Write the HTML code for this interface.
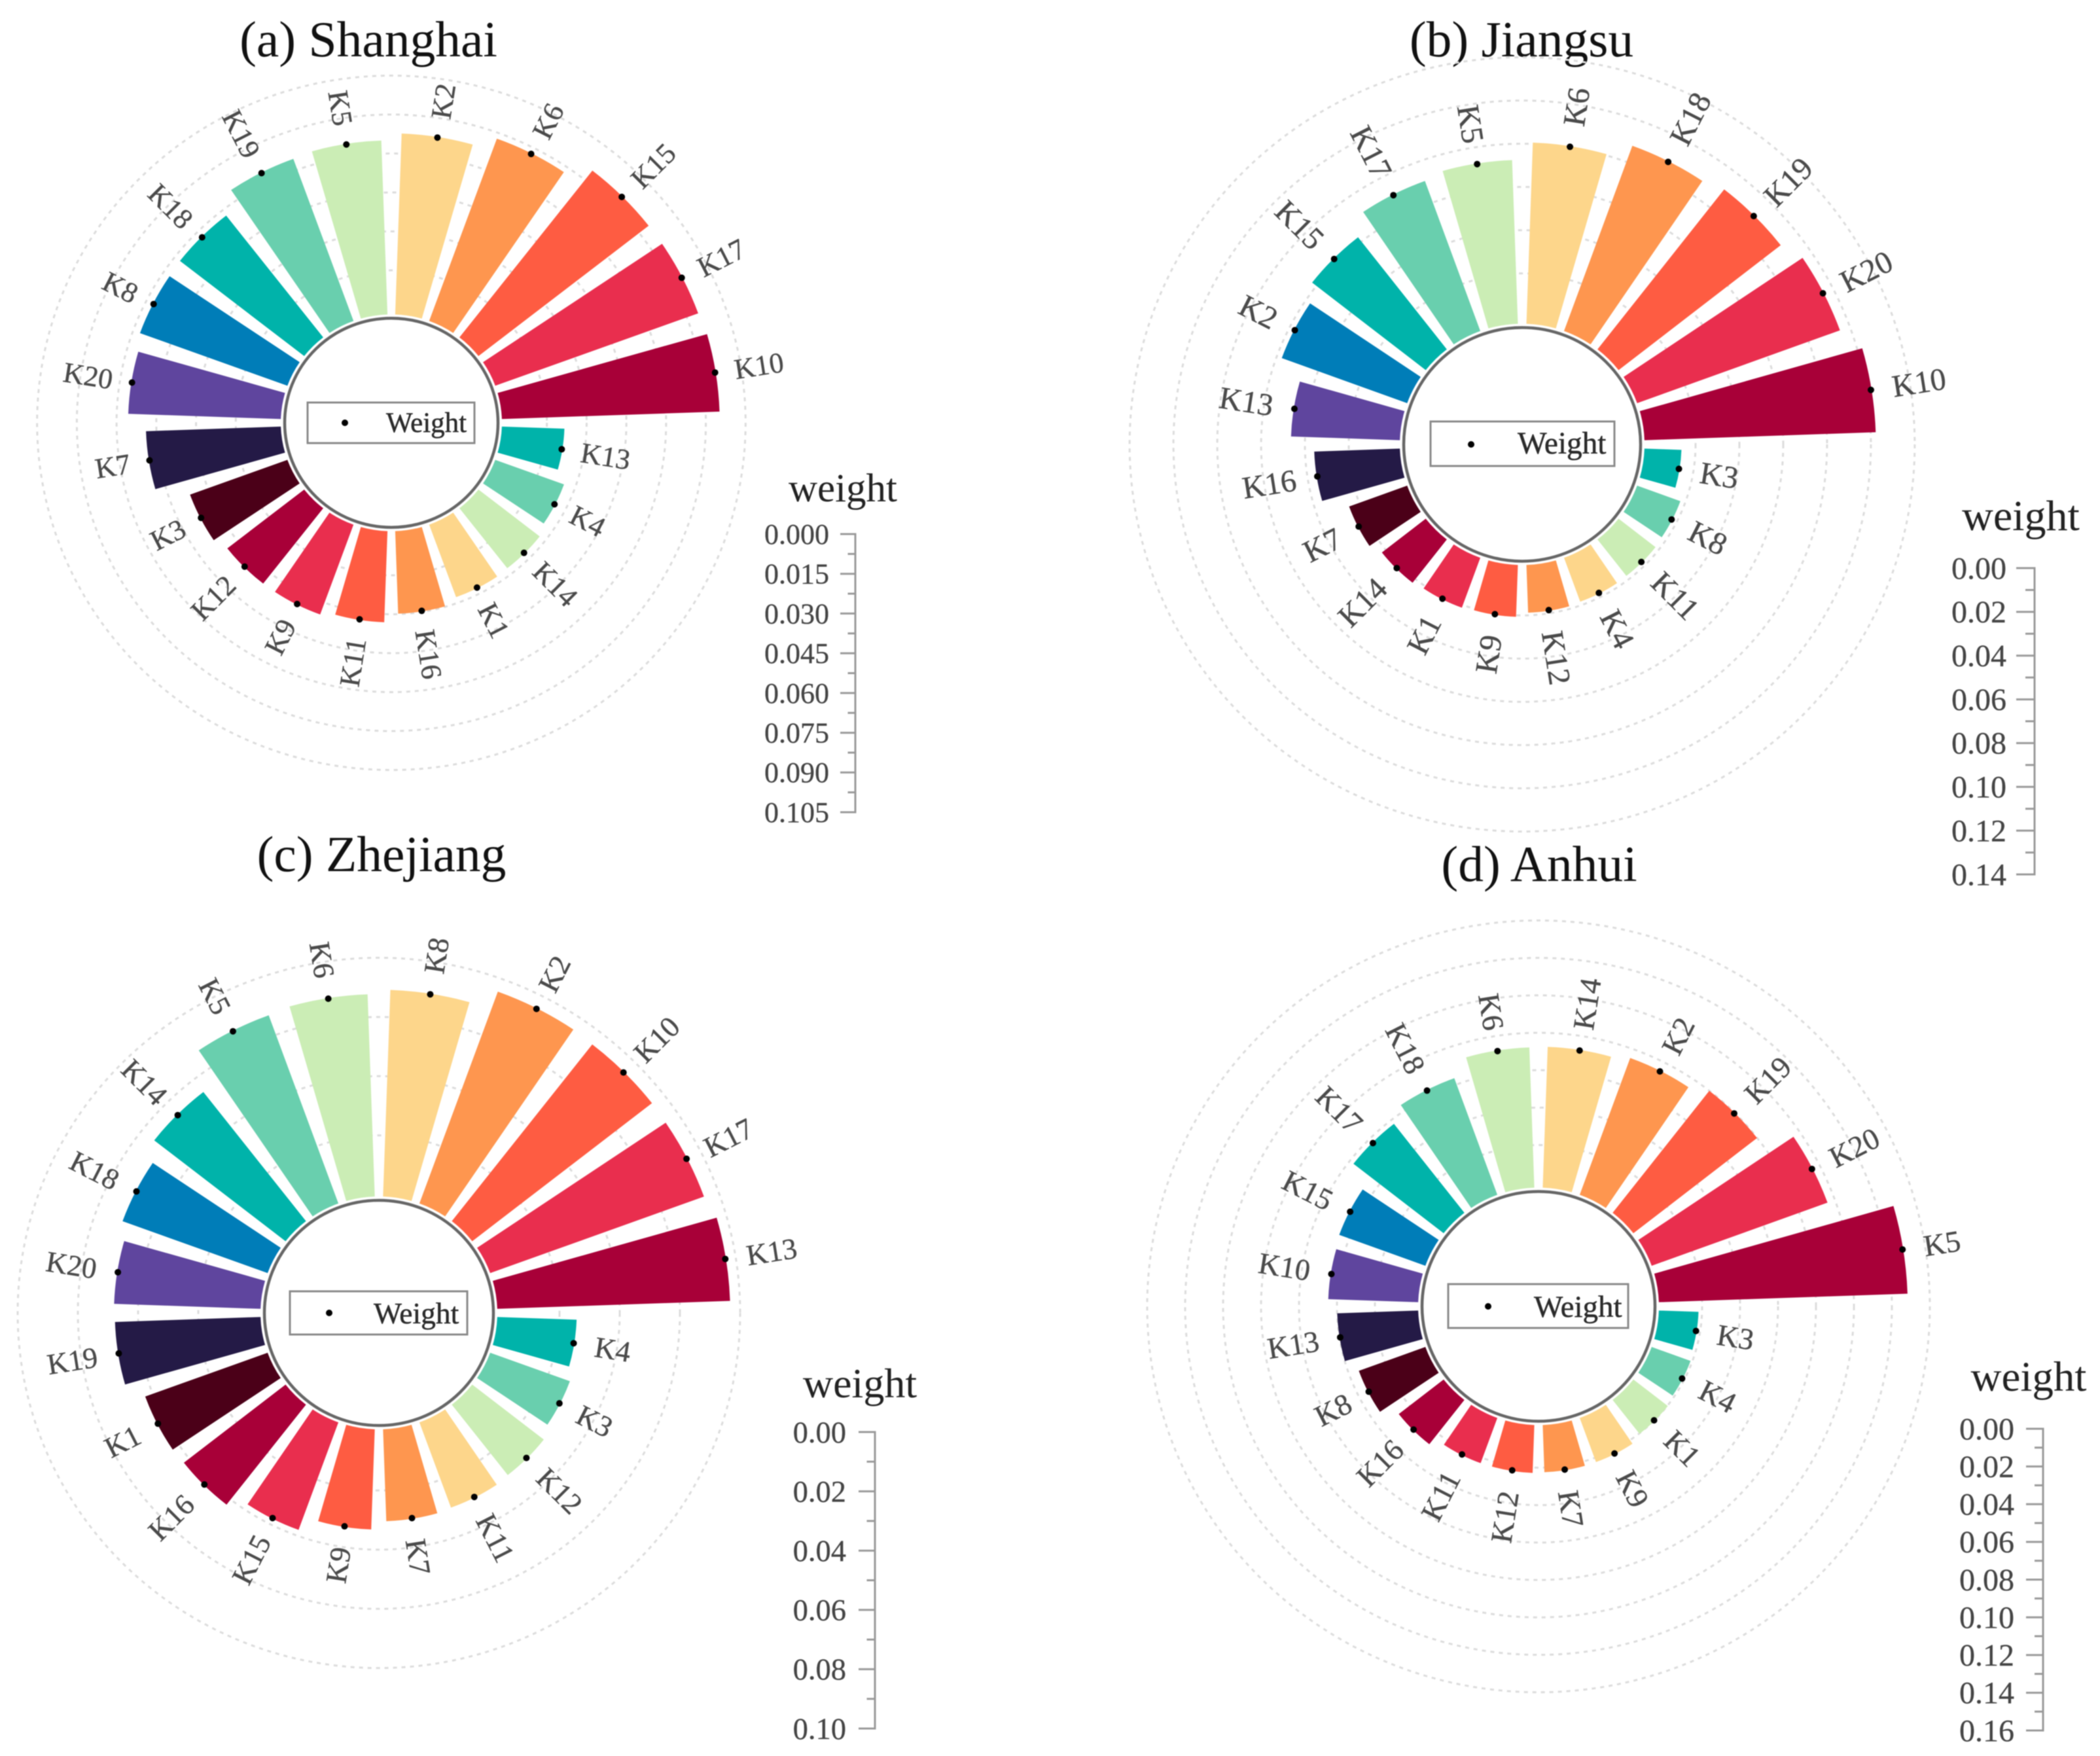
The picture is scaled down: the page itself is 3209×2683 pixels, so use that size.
<!DOCTYPE html>
<html lang="en">
<head>
<meta charset="utf-8">
<title>Keyword weights by province</title>
<style>
html,body{margin:0;padding:0;background:#fff;}
svg{display:block;font-family:"Liberation Serif",serif;filter:blur(0.8px);}
</style>
</head>
<body>
<svg id="chart" xmlns="http://www.w3.org/2000/svg" width="3209" height="2683" viewBox="0 0 3209 2683"></svg>
<script>
// ----- Data (clockwise, starting from the first bar right of north) -----
const shanghaiCategories = ["K2","K6","K15","K17","K10","K13","K4","K14","K1","K16","K11","K9","K12","K3","K7","K20","K8","K18","K19","K5"];
const shanghaiValues = [0.0675,0.0725,0.0793,0.0793,0.0800,0.0214,0.0254,0.0271,0.0275,0.0296,0.0329,0.0346,0.0346,0.0369,0.0487,0.0554,0.0570,0.0573,0.0642,0.0648];
const shanghaiTicks = ["0.000","0.015","0.030","0.045","0.060","0.075","0.090","0.105"];
const shanghaiRings = [0.015,0.030,0.045,0.060,0.075,0.090];

const jiangsuCategories = ["K6","K18","K19","K20","K10","K3","K8","K11","K4","K12","K9","K1","K14","K7","K16","K13","K2","K15","K17","K5"];
const jiangsuValues = [0.0803,0.0876,0.0903,0.0949,0.1020,0.0133,0.0174,0.0178,0.0180,0.0185,0.0204,0.0210,0.0218,0.0246,0.0355,0.0461,0.0573,0.0622,0.0703,0.0722];
const jiangsuTicks = ["0.00","0.02","0.04","0.06","0.08","0.10","0.12","0.14"];
const jiangsuRings = [0.02,0.04,0.06,0.08,0.10,0.12];

const zhejiangCategories = ["K8","K2","K10","K17","K13","K4","K3","K12","K11","K7","K9","K15","K16","K1","K19","K20","K18","K14","K5","K6"];
const zhejiangValues = [0.0690,0.0753,0.0749,0.0747,0.0765,0.0255,0.0273,0.0293,0.0298,0.0302,0.0330,0.0378,0.0420,0.0424,0.0475,0.0478,0.0504,0.0545,0.0668,0.0675];
const zhejiangTicks = ["0.00","0.02","0.04","0.06","0.08","0.10"];
const zhejiangRings = [0.02,0.04,0.06,0.08];

const anhuiCategories = ["K14","K2","K19","K20","K5","K3","K4","K1","K9","K7","K12","K11","K16","K8","K13","K10","K15","K17","K18","K6"];
const anhuiValues = [0.0722,0.0747,0.0796,0.0955,0.1280,0.0178,0.0187,0.0199,0.0220,0.0221,0.0225,0.0226,0.0269,0.0342,0.0396,0.0443,0.0452,0.0572,0.0632,0.0719];
const anhuiTicks = ["0.00","0.02","0.04","0.06","0.08","0.10","0.12","0.14","0.16"];
const anhuiRings = [0.02,0.04,0.06,0.08,0.10,0.12,0.14];

const barColors = ["#FDD68B","#FE964F","#FE5C42","#E92E4E","#A80038","#00B3AA","#69CFAE","#CBEDB5","#FDD68B","#FE964F","#FE5C42","#E92E4E","#A80038","#4B0018","#241A46","#5F459E","#007DB8","#00B3AA","#69CFAE","#CBEDB5"];

// ----- Panel layout -----
const panels = [
  {id:"shanghai", title:"(a) Shanghai", tx:563, ty:86,
   cx:598, cy:646, sy:0.98, inner:163, r0:177, k:4048,
   cats:shanghaiCategories, vals:shanghaiValues, ticks:shanghaiTicks, rings:shanghaiRings, lf:44, gap:30,
   box:[-128,-31,255,62], dotX:-71, legX:-8, legY:14, legF:43,
   ax:1307, ay0:816, ay1:1241, tickLen:23, tickF:44, tickGap:17, wx:1288, wy:766, wf:61},
  {id:"jiangsu", title:"(b) Jiangsu", tx:2325, ty:86,
   cx:2326, cy:679, sy:0.986, inner:181, r0:198, k:3349,
   cats:jiangsuCategories, vals:jiangsuValues, ticks:jiangsuTicks, rings:jiangsuRings, lf:48, gap:33,
   box:[-140,-35,281,68], dotX:-78, legX:-7, legY:14, legF:47.3,
   ax:3109, ay0:868, ay1:1336, tickLen:28, tickF:48, tickGap:15, wx:3088, wy:810, wf:66},
  {id:"zhejiang", title:"(c) Zhejiang", tx:583, ty:1331,
   cx:579, cy:2006, sy:0.983, inner:175, r0:184, k:4600,
   cats:zhejiangCategories, vals:zhejiangValues, ticks:zhejiangTicks, rings:zhejiangRings, lf:45, gap:33,
   box:[-136,-33,271,66], dotX:-76, legX:-8, legY:16, legF:45.5,
   ax:1337, ay0:2188, ay1:2641, tickLen:25, tickF:46.5, tickGap:19, wx:1314, wy:2135, wf:64},
  {id:"anhui", title:"(d) Anhui", tx:2352, ty:1346,
   cx:2351, cy:1996, sy:0.986, inner:178, r0:192, k:2900,
   cats:anhuiCategories, vals:anhuiValues, ticks:anhuiTicks, rings:anhuiRings, lf:46, gap:33,
   box:[-138,-34,275,67], dotX:-77, legX:-7, legY:16, legF:47,
   ax:3122, ay0:2183, ay1:2644, tickLen:26, tickF:48, tickGap:18, wx:3100, wy:2125, wf:65}
];

const svgNS = "http://www.w3.org/2000/svg";
const root = document.getElementById("chart");
const STEP = 18, HALF = 7, BAR_EXTRA = 1, BAR_START = 6, TITLE_SIZE = 77.5;

function make(tag, attrs, parent) {
  const n = document.createElementNS(svgNS, tag);
  for (const key in attrs) n.setAttribute(key, attrs[key]);
  parent.appendChild(n);
  return n;
}
function polar(p, r, deg) {
  const a = deg * Math.PI / 180;
  return [p.cx + r * Math.sin(a), p.cy - r * Math.cos(a) * p.sy];
}
function radius(p, v) { return p.r0 + p.k * v; }
function sectorPath(p, r1, r2, a1, a2) {
  const A = polar(p, r1, a1), B = polar(p, r2, a1), C = polar(p, r2, a2), D = polar(p, r1, a2);
  return "M" + A[0] + " " + A[1] + "L" + B[0] + " " + B[1] +
    "A" + r2 + " " + (r2 * p.sy) + " 0 0 1 " + C[0] + " " + C[1] +
    "L" + D[0] + " " + D[1] +
    "A" + r1 + " " + (r1 * p.sy) + " 0 0 0 " + A[0] + " " + A[1] + "Z";
}

panels.forEach(function (p) {
  const g = make("g", {}, root);
  
  

  const title = make("text", {x:p.tx, y:p.ty, "text-anchor":"middle", "font-size":TITLE_SIZE, fill:"#111"}, g);
  
  
  title.textContent = p.title;

  p.rings.forEach(function (v) {
    const rr = radius(p, v);
    const ring = make("ellipse", {cx:p.cx, cy:p.cy, rx:rr, ry:rr * p.sy, fill:"none", stroke:"#dcdcdc", "stroke-width":3, "stroke-dasharray":"6 7"}, g);
    
    
  });

  p.vals.forEach(function (v, i) {
    const mid = 9 + STEP * i;
    const outer = radius(p, v);
    const bar = make("path", {d:sectorPath(p, p.inner + BAR_START, outer + BAR_EXTRA, mid - HALF, mid + HALF), fill:barColors[i]}, g);
    
    

    const pt = polar(p, outer, mid);
    const dot = make("circle", {cx:pt[0], cy:pt[1], r:5, fill:"#000"}, g);
    
    

    const lp = polar(p, outer + p.gap, mid);
    const rightSide = mid < 180;
    const rot = rightSide ? mid - 90 : mid + 90;
    const label = make("text", {
      x:lp[0], y:lp[1], dy:"0.34em",
      "text-anchor":rightSide ? "start" : "end",
      transform:"rotate(" + rot + " " + lp[0] + " " + lp[1] + ")",
      "font-size":p.lf, fill:"#4a4a4a", stroke:"#4a4a4a", "stroke-width":0.4
    }, g);
    
    
    label.textContent = p.cats[i];
  });

  const hub = make("ellipse", {cx:p.cx, cy:p.cy, rx:p.inner, ry:p.inner * p.sy, fill:"#fff", stroke:"#666", "stroke-width":4.5}, g);
  
  

  const legendBox = make("rect", {x:p.cx + p.box[0], y:p.cy + p.box[1], width:p.box[2], height:p.box[3], fill:"none", stroke:"#8a8a8a", "stroke-width":3}, g);
  
  

  const legendDot = make("circle", {cx:p.cx + p.dotX, cy:p.cy, r:5, fill:"#000"}, g);
  
  

  const legendText = make("text", {x:p.cx + p.legX, y:p.cy + p.legY, "font-size":p.legF, fill:"#2a2a2a", stroke:"#2a2a2a", "stroke-width":0.5}, g);
  
  
  legendText.textContent = "Weight";

  const axisTitle = make("text", {x:p.wx, y:p.wy, "text-anchor":"middle", "font-size":p.wf, fill:"#222"}, g);
  
  
  axisTitle.textContent = "weight";

  const axisLine = make("line", {x1:p.ax, y1:p.ay0, x2:p.ax, y2:p.ay1, stroke:"#999", "stroke-width":3}, g);
  
  

  const vmax = parseFloat(p.ticks[p.ticks.length - 1]);
  const axisY = function (v) { return p.ay0 + (v / vmax) * (p.ay1 - p.ay0); };
  p.ticks.forEach(function (t, i) {
    const v = parseFloat(t);
    const y = axisY(v);
    const major = make("line", {x1:p.ax - p.tickLen, y1:y, x2:p.ax + 1.5, y2:y, stroke:"#999", "stroke-width":3}, g);
    
    

    const tl = make("text", {x:p.ax - p.tickLen - p.tickGap, y:y, dy:"0.34em", "text-anchor":"end", "font-size":p.tickF, fill:"#444", stroke:"#444", "stroke-width":0.3}, g);
    
    
    tl.textContent = t;

    if (i < p.ticks.length - 1) {
      const yMid = axisY((v + parseFloat(p.ticks[i + 1])) / 2);
      const minor = make("line", {x1:p.ax - p.tickLen / 2, y1:yMid, x2:p.ax, y2:yMid, stroke:"#999", "stroke-width":3}, g);
      
      
    }
  });
});
</script>
</body>
</html>
